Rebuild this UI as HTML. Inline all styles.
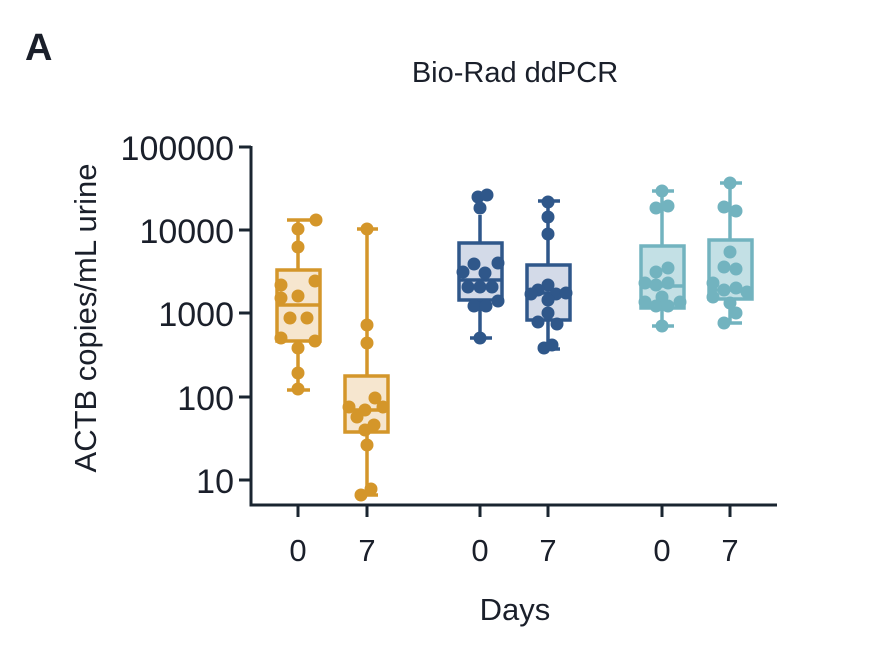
<!DOCTYPE html>
<html><head><style>body{margin:0;background:#fff}svg{display:block}text{font-family:"Liberation Sans",sans-serif;fill:#1a1f2a}</style></head><body>
<svg width="875" height="646" viewBox="0 0 875 646">
<text x="25" y="60" font-size="38" font-weight="bold">A</text>
<text x="515" y="82" font-size="29" text-anchor="middle">Bio-Rad ddPCR</text>
<g stroke="#1a2530" stroke-width="3" fill="none">
<path d="M251 146V505H777"/>
<path d="M239 147H251M239 230H251M239 313H251M239 397H251M239 480H251"/>
<path d="M298 505V517M367 505V517M480 505V517M548 505V517M662 505V517M730 505V517"/>
</g>
<g font-size="34" text-anchor="end">
<text x="234" y="160">100000</text><text x="234" y="243">10000</text><text x="234" y="326">1000</text><text x="234" y="410">100</text><text x="234" y="493">10</text>
</g>
<g font-size="31" text-anchor="middle">
<text x="298" y="561">0</text><text x="367" y="561">7</text><text x="480" y="561">0</text><text x="548" y="561">7</text><text x="662" y="561">0</text><text x="730" y="561">7</text>
<text x="515" y="620">Days</text>
</g>
<text transform="translate(96 318) rotate(-90)" font-size="31" text-anchor="middle">ACTB copies/mL urine</text>

<!-- orange -->
<g stroke="#d4962a" stroke-width="3.5" fill="#f6e6cf">
<path d="M298 220V270M298 341V390M287 220H310M287 390H310" fill="none"/>
<rect x="277" y="270" width="43" height="71"/><path d="M277 305H320"/>
<path d="M367 229V376M367 432V495M357 229H378M357 495H378" fill="none"/>
<rect x="345" y="376" width="43" height="56"/><path d="M345 410H388"/>
</g>
<g fill="#d4962a">
<circle cx="316" cy="220" r="6.5"/><circle cx="298" cy="229" r="6.5"/><circle cx="298" cy="247" r="6.5"/><circle cx="281" cy="285" r="6.5"/><circle cx="315" cy="281" r="6.5"/><circle cx="281" cy="298" r="6.5"/><circle cx="298" cy="296" r="6.5"/><circle cx="290" cy="318" r="6.5"/><circle cx="307" cy="318" r="6.5"/><circle cx="281" cy="338" r="6.5"/><circle cx="315" cy="341" r="6.5"/><circle cx="298" cy="348" r="6.5"/><circle cx="298" cy="373" r="6.5"/><circle cx="298" cy="389" r="6.5"/>
<circle cx="367" cy="229" r="6.5"/><circle cx="367" cy="325" r="6.5"/><circle cx="367" cy="343" r="6.5"/><circle cx="375" cy="398" r="6.5"/><circle cx="349" cy="407" r="6.5"/><circle cx="365" cy="410" r="6.5"/><circle cx="383" cy="407" r="6.5"/><circle cx="357" cy="417" r="6.5"/><circle cx="374" cy="425" r="6.5"/><circle cx="365" cy="430" r="6.5"/><circle cx="367" cy="445" r="6.5"/><circle cx="371" cy="489" r="6.5"/><circle cx="361" cy="495" r="6.5"/>
</g>
<!-- navy -->
<g stroke="#2f578a" stroke-width="3.5" fill="#d3dae8">
<path d="M480 215V242M480 300V338M470 338H492" fill="none"/>
<rect x="459" y="243" width="43" height="57"/><path d="M459 280H502"/>
<path d="M548 201V265M548 320V349M538 201H560M538 349H560" fill="none"/>
<rect x="527" y="265" width="43" height="55"/><path d="M527 293H570"/>
</g>
<g fill="#2f578a">
<circle cx="478" cy="197" r="6.5"/><circle cx="487" cy="195" r="6.5"/><circle cx="480" cy="208" r="6.5"/><circle cx="474" cy="264" r="6.5"/><circle cx="498" cy="263" r="6.5"/><circle cx="463" cy="272" r="6.5"/><circle cx="485" cy="273" r="6.5"/><circle cx="468" cy="287" r="6.5"/><circle cx="480" cy="287" r="6.5"/><circle cx="492" cy="287" r="6.5"/><circle cx="474" cy="306" r="6.5"/><circle cx="486" cy="306" r="6.5"/><circle cx="498" cy="301" r="6.5"/><circle cx="480" cy="338" r="6.5"/>
<circle cx="548" cy="202" r="6.5"/><circle cx="548" cy="217" r="6.5"/><circle cx="548" cy="234" r="6.5"/><circle cx="548" cy="285" r="6.5"/><circle cx="538" cy="290" r="6.5"/><circle cx="531" cy="294" r="6.5"/><circle cx="556" cy="294" r="6.5"/><circle cx="566" cy="293" r="6.5"/><circle cx="548" cy="300" r="6.5"/><circle cx="548" cy="313" r="6.5"/><circle cx="538" cy="322" r="6.5"/><circle cx="557" cy="324" r="6.5"/><circle cx="544" cy="348" r="6.5"/><circle cx="552" cy="345" r="6.5"/>
</g>
<!-- teal -->
<g stroke="#72b3bf" stroke-width="3.5" fill="#c3e0e5">
<path d="M662 191V246M662 308V326M652 191H674M652 326H674" fill="none"/>
<rect x="641" y="246" width="43" height="62"/><path d="M641 286H684"/>
<path d="M730 183V240M730 300V323M720 183H742M720 323H742" fill="none"/>
<rect x="709" y="240" width="43" height="59"/><path d="M709 290H752"/>
</g>
<g fill="#72b3bf">
<circle cx="662" cy="191" r="6.5"/><circle cx="656" cy="208" r="6.5"/><circle cx="668" cy="206" r="6.5"/><circle cx="656" cy="272" r="6.5"/><circle cx="668" cy="268" r="6.5"/><circle cx="645" cy="283" r="6.5"/><circle cx="656" cy="285" r="6.5"/><circle cx="668" cy="283" r="6.5"/><circle cx="645" cy="302" r="6.5"/><circle cx="662" cy="297" r="6.5"/><circle cx="680" cy="302" r="6.5"/><circle cx="656" cy="306" r="6.5"/><circle cx="668" cy="306" r="6.5"/><circle cx="662" cy="326" r="6.5"/>
<circle cx="730" cy="183" r="6.5"/><circle cx="724" cy="207" r="6.5"/><circle cx="736" cy="211" r="6.5"/><circle cx="730" cy="252" r="6.5"/><circle cx="724" cy="267" r="6.5"/><circle cx="736" cy="269" r="6.5"/><circle cx="713" cy="283" r="6.5"/><circle cx="724" cy="290" r="6.5"/><circle cx="736" cy="288" r="6.5"/><circle cx="747" cy="292" r="6.5"/><circle cx="713" cy="297" r="6.5"/><circle cx="730" cy="303" r="6.5"/><circle cx="736" cy="313" r="6.5"/><circle cx="724" cy="323" r="6.5"/>
</g>
</svg>
</body></html>
